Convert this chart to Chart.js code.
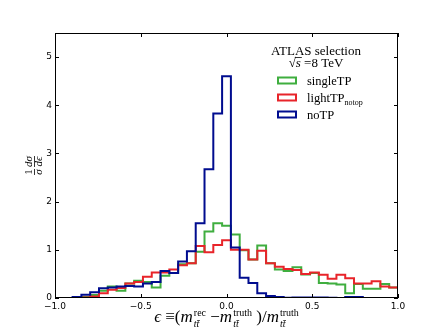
<!DOCTYPE html>
<html>
<head>
<meta charset="utf-8">
<script src="https://cdn.jsdelivr.net/npm/chart.js@4.4.1/dist/chart.umd.min.js"></script>
<style>
    html, body { margin: 0; padding: 0; background: #fff; }
    #wrap { width: 443px; height: 332px; }
</style>
</head>
<body>
<div id="wrap"><canvas id="histChart" width="443" height="332"></canvas></div>
<script>
// Histogram binning: 39 bins over [-1, 1]
const binCount = 39;
const xRange = [-1, 1];
const yRange = [0, 5.5];
const xTicks = [-1.0, -0.5, 0.0, 0.5, 1.0];
const yTicks = [0, 1, 2, 3, 4, 5];

// Bin contents (1/sigma dsigma/deps), left to right
const singleTP = [
    0, 0, 0, 0.02, 0.06, 0.15, 0.24, 0.15, 0.3, 0.36,
    0.33, 0.22, 0.46, 0.52, 0.7, 0.72, 0.96, 1.38, 1.55, 1.5,
    1.32, 0.99, 0.8, 1.09, 0.72, 0.59, 0.56, 0.64, 0.49, 0.52,
    0.31, 0.3, 0.28, 0.1, 0.29, 0.19, 0.19, 0.29, 0.22,
];
const lightTPnotop = [
    0, 0, 0, 0.01, 0.03, 0.1, 0.17, 0.21, 0.3, 0.33,
    0.44, 0.53, 0.53, 0.59, 0.68, 0.72, 1.08, 0.95, 1.1, 1.2,
    1.0, 1.0, 0.8, 0.98, 0.72, 0.65, 0.6, 0.58, 0.5, 0.53,
    0.48, 0.4, 0.48, 0.41, 0.3, 0.3, 0.35, 0.24, 0.22,
];
const noTP = [
    0, 0, 0.02, 0.07, 0.12, 0.2, 0.22, 0.24, 0.25, 0.24,
    0.3, 0.33, 0.56, 0.52, 0.76, 0.97, 1.55, 2.67, 3.83, 4.6,
    1.05, 0.42, 0.31, 0.1, 0.04, 0.02, 0.005, 0.01, 0.01, 0.01,
    0.01, 0.005, 0, 0.02, 0.02, 0, 0, 0, 0,
];

const seriesLabels = ['singleTP', 'lightTP', 'noTP'];
const seriesSubs = ['', 'notop', ''];
const seriesColors = ['#3fae3f', '#e8242a', '#000c8f'];

// Turn bin contents into step-line points at the bin edges
function stepPoints(values) {
    const w = (xRange[1] - xRange[0]) / binCount;
    const pts = [{ x: xRange[0], y: 0 }];
    values.forEach((v, i) => pts.push({ x: xRange[0] + i * w, y: v }));
    pts.push({ x: xRange[1], y: values[values.length - 1] });
    pts.push({ x: xRange[1], y: 0 });
    return pts;
}

const fmtTick = (v) => (v < 0 ? '\u2212' : '') + Math.abs(v).toFixed(1);
const serif = '"Liberation Serif", "DejaVu Serif", serif';

// Frame, inward ticks, legend and axis titles (matplotlib look)
const decorPlugin = {
    id: 'decor',
    afterDraw(chart) {
        const ctx = chart.ctx;
        const a = chart.chartArea;
        const sx = chart.scales.x;
        const sy = chart.scales.y;
        ctx.save();
        ctx.strokeStyle = '#000';
        ctx.lineWidth = 1;
        ctx.strokeRect(a.left + 0.5, a.top + 0.5, a.right - a.left - 1, a.bottom - a.top - 1);
        ctx.beginPath();
        xTicks.forEach((v) => {
            const px = Math.round(sx.getPixelForValue(v)) + 0.5;
            ctx.moveTo(px, a.bottom); ctx.lineTo(px, a.bottom - 4);
            ctx.moveTo(px, a.top); ctx.lineTo(px, a.top + 4);
        });
        yTicks.forEach((v) => {
            const py = Math.round(sy.getPixelForValue(v)) + 0.5;
            ctx.moveTo(a.left, py); ctx.lineTo(a.left + 4, py);
            ctx.moveTo(a.right, py); ctx.lineTo(a.right - 4, py);
        });
        ctx.stroke();

        drawLegend(ctx);
        drawXTitle(ctx, (a.left + a.right) / 2, 322);
        drawYTitle(ctx, 34, (a.top + a.bottom) / 2);
        ctx.restore();
    },
};

function drawLegend(ctx) {
    ctx.fillStyle = '#000';
    ctx.textBaseline = 'alphabetic';
    ctx.textAlign = 'center';
    ctx.font = '13px ' + serif;
    ctx.fillText('ATLAS selection', 316, 55);

    // sqrt(s) = 8 TeV
    ctx.textAlign = 'left';
    const rest = ' =8 TeV';
    ctx.font = '13px ' + serif;
    const wRoot = ctx.measureText('\u221A').width;
    const wRest = ctx.measureText(rest).width;
    ctx.font = 'italic 13px ' + serif;
    const wS = ctx.measureText('s').width;
    const x = 316 - (wRoot + wS + wRest) / 2;
    ctx.font = '13px ' + serif;
    ctx.fillText('\u221A', x, 67);
    ctx.font = 'italic 13px ' + serif;
    ctx.fillText('s', x + wRoot, 67);
    ctx.beginPath();
    ctx.lineWidth = 0.8;
    ctx.moveTo(x + wRoot - 1, 57.5);
    ctx.lineTo(x + wRoot + wS + 1, 57.5);
    ctx.stroke();
    ctx.font = '13px ' + serif;
    ctx.fillText(rest, x + wRoot + wS, 67);

    const rowY = [80.5, 97.5, 114.5];
    seriesLabels.forEach((lab, i) => {
        ctx.strokeStyle = seriesColors[i];
        ctx.lineWidth = 2;
        ctx.strokeRect(278, rowY[i] - 3, 18, 6);
        ctx.font = '12.5px ' + serif;
        ctx.fillText(lab, 307, rowY[i] + 4);
        if (seriesSubs[i]) {
            const w = ctx.measureText(lab).width;
            ctx.font = '8px ' + serif;
            ctx.fillText(seriesSubs[i], 307 + w, rowY[i] + 7);
        }
    });
}

// tt with a bar over the second t, as a subscript
function drawTTbar(ctx, x, y, font) {
    ctx.font = font;
    ctx.fillText('tt', x, y);
    const w1 = ctx.measureText('t').width;
    const w2 = ctx.measureText('tt').width;
    ctx.beginPath();
    ctx.lineWidth = 0.7;
    ctx.moveTo(x + w1 + 0.5, y - 6.5);
    ctx.lineTo(x + w2 + 0.5, y - 6.5);
    ctx.stroke();
    return w2;
}

function drawXTitle(ctx, cx, base) {
    const big = '17px ' + serif;
    const bigI = 'italic 17px ' + serif;
    const small = '10px ' + serif;
    const smallI = 'italic 10px ' + serif;
    // pieces: [text, font] or ['stack', supText]
    const parts = [
        ['\u03F5', bigI], [' \u2261', big], ['(', big], ['m', bigI], ['stack', 'rec'],
        [' \u2212', big], ['m', bigI], ['stack', 'truth'], [' )', big], ['/', big],
        ['m', bigI], ['stack', 'truth'],
    ];
    const widthOf = (p) => {
        if (p[0] === 'stack') {
            ctx.font = small;
            const ws = ctx.measureText(p[1]).width;
            ctx.font = smallI;
            const wt = ctx.measureText('tt').width;
            return Math.max(ws, wt) + 1;
        }
        ctx.font = p[1];
        return ctx.measureText(p[0]).width;
    };
    const total = parts.reduce((s, p) => s + widthOf(p), 0);
    let x = cx - total / 2;
    ctx.fillStyle = '#000';
    ctx.strokeStyle = '#000';
    ctx.textAlign = 'left';
    parts.forEach((p) => {
        const w = widthOf(p);
        if (p[0] === 'stack') {
            ctx.font = small;
            ctx.fillText(p[1], x + 1, base - 6);
            drawTTbar(ctx, x + 1, base + 5, smallI);
        } else {
            ctx.font = p[1];
            ctx.fillText(p[0], x, base);
        }
        x += w;
    });
}

function drawYTitle(ctx, cx, cy) {
    const rom = '11px ' + serif;
    const ita = 'italic 11px ' + serif;
    ctx.save();
    ctx.translate(cx, cy);
    ctx.rotate(-Math.PI / 2);
    ctx.fillStyle = '#000';
    ctx.strokeStyle = '#000';
    ctx.textAlign = 'center';
    ctx.font = ita;
    const w1 = Math.max(ctx.measureText('\u03C3').width, 6);
    const w2 = Math.max(ctx.measureText('d\u03C3').width, ctx.measureText('d\u03F5').width);
    const gap = 2;
    const left = -(w1 + gap + w2) / 2;
    const c1 = left + w1 / 2;
    const c2 = left + w1 + gap + w2 / 2;
    ctx.font = rom;
    ctx.fillText('1', c1, -2);
    ctx.font = ita;
    ctx.fillText('\u03C3', c1, 8);
    ctx.fillText('d\u03C3', c2, -2);
    ctx.fillText('d\u03F5', c2, 8);
    ctx.lineWidth = 0.8;
    ctx.beginPath();
    ctx.moveTo(left, 0.5); ctx.lineTo(left + w1, 0.5);
    ctx.moveTo(left + w1 + gap, 0.5); ctx.lineTo(left + w1 + gap + w2, 0.5);
    ctx.stroke();
    ctx.restore();
}

const seriesData = [singleTP, lightTPnotop, noTP];
const tickFont = { family: '"DejaVu Sans", sans-serif', size: 9 };

new Chart(document.getElementById('histChart'), {
    type: 'line',
    data: {
        datasets: seriesData.map((vals, i) => ({
            label: seriesLabels[i] + seriesSubs[i],
            data: stepPoints(vals),
            borderColor: seriesColors[i],
            borderWidth: 2,
            stepped: true,
            fill: false,
            pointRadius: 0,
            order: 2 - i, // noTP drawn on top
        })),
    },
    options: {
        responsive: false,
        animation: false,
        devicePixelRatio: 1,
        layout: { padding: { top: 33, right: 45, left: 0, bottom: 0 } },
        plugins: { legend: { display: false }, tooltip: { enabled: false } },
        scales: {
            x: {
                type: 'linear',
                min: xRange[0],
                max: xRange[1],
                afterBuildTicks: (s) => { s.ticks = xTicks.map((v) => ({ value: v })); },
                afterFit: (s) => { s.height = 34; },
                grid: { display: false, drawTicks: false },
                border: { display: false },
                ticks: { color: '#000', font: tickFont, padding: 3, maxRotation: 0, autoSkip: false, callback: fmtTick },
            },
            y: {
                type: 'linear',
                min: yRange[0],
                max: yRange[1],
                afterBuildTicks: (s) => { s.ticks = yTicks.map((v) => ({ value: v })); },
                afterFit: (s) => { s.width = 55; },
                grid: { display: false, drawTicks: false },
                border: { display: false },
                ticks: { color: '#000', font: tickFont, padding: 3, callback: (v) => String(v) },
            },
        },
    },
    plugins: [decorPlugin],
});
</script>
</body>
</html>
